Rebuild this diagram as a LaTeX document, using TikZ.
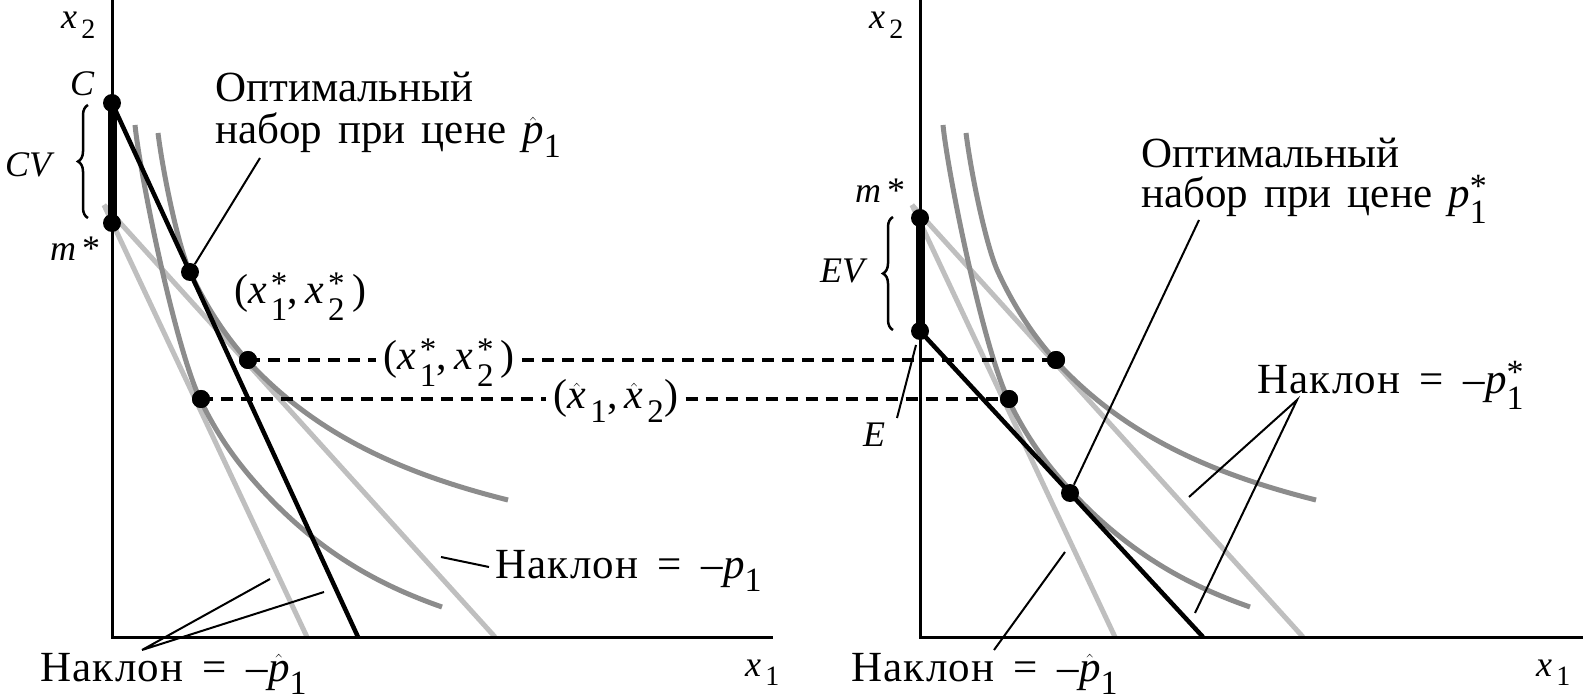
\documentclass[tikz,border=0pt]{standalone}
\usepackage{amsmath}
\usepackage{fontspec}
\setmainfont{Liberation Serif}
\newfontfamily\widesp[WordSpace=1.5]{Liberation Serif}
\usetikzlibrary{decorations.pathreplacing}
\DeclareMathSizes{36}{36}{28}{20}
\DeclareMathSizes{42}{42}{33}{24}
\DeclareMathSizes{43}{43}{34}{26}
\definecolor{curvegray}{gray}{0.55}
\definecolor{linegray}{gray}{0.75}
\newcommand{\vi}[1]{\textit{#1}}
\newcommand{\pst}{\vi{p}^{\textrm{*}}_{\textrm{1}}}
\newcommand{\phat}{\hat{\vi{p}}_{\textrm{1}}}
\newcommand{\xst}[1]{\vi{x}\,^{\textrm{*}}_{\textrm{#1}}}
\newcommand{\xht}[1]{\hat{\vi{x}}\,_{\textrm{#1}}}
\newcommand{\nakl}{{\addfontfeature{LetterSpace=3}Наклон}}
\newcommand{\eqsp}{\hspace{0.45em}=\hspace{0.45em}}
\begin{document}
\begin{tikzpicture}[x=1pt,y=-1pt,
  txt/.style={font=\widesp\fontsize{43}{48}\selectfont, inner sep=0pt, anchor=base west},
  mth/.style={font=\fontsize{36}{40}\selectfont, inner sep=0pt, anchor=base west},
  crd/.style={font=\fontsize{42}{46}\selectfont, inner sep=0pt, anchor=base west},
  axisln/.style={line width=3pt},
  budget/.style={line width=4.5pt},
  thickseg/.style={line width=9pt},
  icurve/.style={line width=5pt, draw=curvegray},
  pline/.style={line width=5pt, draw=linegray},
  dashln/.style={line width=3.2pt, dash pattern=on 12pt off 8pt},
  callout/.style={line width=2pt},
  dot/.style={circle, fill=black, inner sep=0pt, minimum size=18pt},
  bracestyle/.style={decorate, decoration={brace, amplitude=10pt}, line width=2.5pt}]
\useasboundingbox (0,0) rectangle (1583,700);

% ---------- left panel ----------
\coordinate (LY) at (112,0);
\coordinate (LO) at (112,637);
\coordinate (LX) at (773,637);
\coordinate (LS) at (104,205);
\coordinate (LE1) at (307,637);
\coordinate (LE2) at (495,637);
\coordinate (LB) at (358,637);

\draw[pline] (LS) -- (LE1);
\draw[pline] (LS) -- (LE2);
\draw[icurve] (135,125) .. controls (140,175) and (175,346) .. (200,399)
   .. controls (220,441) and (242,468) .. (262,490)
   .. controls (322,555) and (382,586) .. (442,607);
\draw[icurve] (158,133) .. controls (163,173) and (178,246) .. (190,272)
   .. controls (208,311) and (229,340) .. (247,360)
   .. controls (317,437) and (408,475) .. (508,500);
\draw[axisln] (LY) -- (LO) -- (LX);

\node[dot] (C) at (112,103) {};
\node[dot] (M1) at (112,223) {};
\node[dot] (T1) at (190,272) {};
\node[dot] (P1) at (248,360) {};
\node[dot] (H1) at (201,399) {};
\draw[thickseg] (C.center) -- (M1.center);
\draw[budget] (C.center) -- (LB);

% ---------- right panel ----------
\coordinate (RY) at (920,0);
\coordinate (RO) at (920,637);
\coordinate (RX) at (1583,637);
\coordinate (RS) at (912,205);
\coordinate (RE1) at (1115,637);
\coordinate (RE2) at (1303,637);
\coordinate (RB) at (1203,637);

\draw[pline] (RS) -- (RE1);
\draw[pline] (RS) -- (RE2);
\begin{scope}[xshift=808pt]
\draw[icurve] (135,125) .. controls (140,175) and (175,346) .. (200,399)
   .. controls (220,441) and (242,468) .. (262,490)
   .. controls (322,555) and (382,586) .. (442,607);
\draw[icurve] (158,133) .. controls (163,173) and (178,246) .. (190,272)
   .. controls (208,311) and (229,340) .. (247,360)
   .. controls (317,437) and (408,475) .. (508,500);
\end{scope}
\draw[axisln] (RY) -- (RO) -- (RX);

\node[dot] (M2) at (920,218) {};
\node[dot] (E) at (920,331) {};
\node[dot] (P2) at (1056,360) {};
\node[dot] (H2) at (1009,399) {};
\node[dot] (T2) at (1070,493) {};
\draw[thickseg] (M2.center) -- (E.center);
\draw[budget] (E.center) -- (RB);

% ---------- dashed connectors ----------
\node[crd, anchor=base, inner xsep=7pt] (lab1) at (449,370) {$\textrm{(}\xst{1}\textrm{,}\;\xst{2}\;\textrm{)}$};
\node[crd, anchor=base, inner xsep=7pt] (lab2) at (616,409) {$\textrm{(}\xht{1}\textrm{,}\;\xht{2}\textrm{)}$};
\draw[dashln] (P1.center) -- (lab1.west |- P1.center);
\draw[dashln] (lab1.east |- P2.center) -- (P2.center);
\draw[dashln] (H1.center) -- (lab2.west |- H1.center);
\draw[dashln] (lab2.east |- H2.center) -- (H2.center);
\node[dot] at (P1) {};
\node[dot] at (P2) {};
\node[dot] at (H1) {};
\node[dot] at (H2) {};

% ---------- braces ----------
\coordinate (BL1) at (88,218);
\coordinate (BL2) at (88,105);
\draw[bracestyle] (BL1) -- (BL2);
\coordinate (BR1) at (893,330);
\coordinate (BR2) at (893,217);
\draw[bracestyle] (BR1) -- (BR2);

% ---------- axis and point labels ----------
\node[mth] (x2L) at (61,29) {$\vi{x}_{\,\textrm{2}}$};
\node[mth] (x2R) at (869,29) {$\vi{x}_{\,\textrm{2}}$};
\node[mth] (x1L) at (745,676) {$\vi{x}_{\,\textrm{1}}$};
\node[mth] (x1R) at (1536,676) {$\vi{x}_{\,\textrm{1}}$};
\node[mth] (Clab) at (70,96) {\vi{C}};
\node[mth] (CVlab) at (5,177) {\vi{CV}};
\node[mth] (m1lab) at (50,261) {\vi{m}\,*};
\node[mth] (m2lab) at (855,203) {\vi{m}\,*};
\node[mth] (EVlab) at (820,283) {\vi{EV}};
\node[mth] (Elab) at (863,447) {\vi{E}};
\node[crd] (xstlab) at (234,304) {$\textrm{(}\xst{1}\textrm{,}\;\xst{2}\;\textrm{)}$};

% ---------- texts ----------
\node[txt] (optL1) at (215,102) {Оптимальный};
\node[txt] (optL2) at (215,144) {набор при цене $\phat$};
\node[txt] (optR1) at (1141,168) {Оптимальный};
\node[txt] (optR2) at (1141,208) {набор при цене $\pst$};
\node[txt] (slL) at (495,578) {\nakl\eqsp–$\vi{p}_{\textrm{1}}$};
\node[txt] (shL) at (40,681) {\nakl\eqsp–$\phat$};
\node[txt] (shR) at (851,681) {\nakl\eqsp–$\phat$};
\node[txt] (ssR) at (1257,394) {\nakl\eqsp–$\pst$};

% ---------- callouts ----------
\coordinate (cA1) at (260,158);
\draw[callout] (cA1) -- (T1);
\coordinate (cB1) at (441,557);
\coordinate (cB2) at (489,567);
\draw[callout] (cB1) -- (cB2);
\coordinate (vL) at (142,650);
\coordinate (vL1) at (270,579);
\coordinate (vL2) at (324,592);
\draw[callout] (vL1) -- (vL) -- (vL2);
\coordinate (cR1) at (1199,220);
\draw[callout] (cR1) -- (T2);
\coordinate (vR) at (1297,400);
\coordinate (vR1) at (1189,497);
\coordinate (vR2) at (1195,613);
\draw[callout] (vR1) -- (vR) -- (vR2);
\coordinate (cH1) at (994,650);
\coordinate (cH2) at (1065,552);
\draw[callout] (cH1) -- (cH2);
\coordinate (cE1) at (916,345);
\coordinate (cE2) at (897,418);
\draw[callout] (cE1) -- (cE2);
\end{tikzpicture}
\end{document}
